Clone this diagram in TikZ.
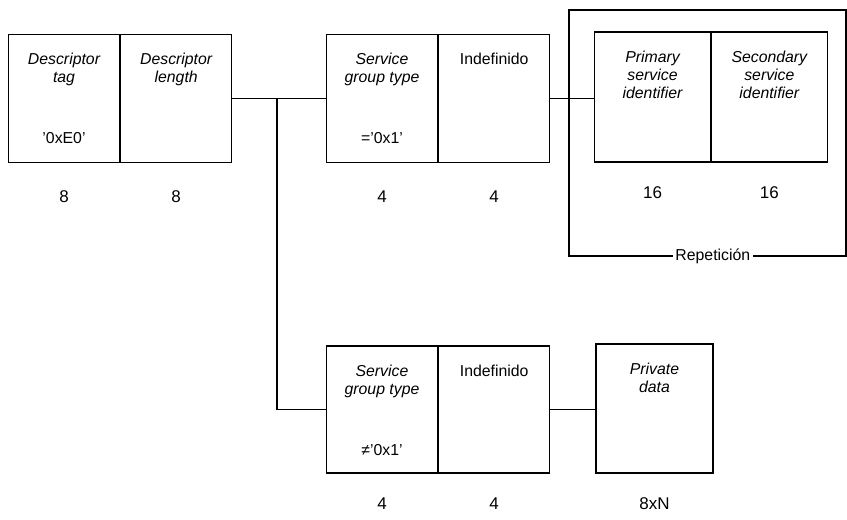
\documentclass[tikz,border=0pt]{standalone}
\usepackage{fontspec}
\setmainfont{Liberation Sans}
\usetikzlibrary{positioning}

\begin{document}
\begin{tikzpicture}[x=0.3mm,y=-0.3mm,
                    every node/.style={font=\fontsize{13.5}{15.5}\selectfont},
                    field/.style={draw,line width=1pt,minimum width=33.3mm,
                                  minimum height=38.5mm,inner sep=0pt},
                    widefield/.style={field,minimum width=34.7mm,minimum height=39mm},
                    fname/.style={font=\fontsize{13.5}{15.5}\selectfont\itshape,
                                  align=center,inner sep=0pt},
                    fvalue/.style={inner sep=0pt},
                    bits/.style={font=\fontsize{14.5}{16}\selectfont,inner sep=0pt},
                    link/.style={line width=1pt}]

  \useasboundingbox (0,0) rectangle (847,520);

  % --- descriptor header ----------------------------------------------------
  \node[field] (tag) at (64,98.5) {};
  \node[field,right=0pt of tag] (len) {};
  \node[fname,below=5.8mm of tag.north] (tagname) {Descriptor\\tag};
  \node[fname,below=5.8mm of len.north] (lenname) {Descriptor\\length};
  \node[fvalue] (tagval) at ([yshift=7.5mm]tag.south) {'0xE0'};
  \node[bits] (tagbits) at ([yshift=-9.9mm]tag.south) {8};
  \node[bits] (lenbits) at ([yshift=-9.9mm]len.south) {8};

  % --- service group type = '0x1' -------------------------------------------
  \node[field] (sgta) at (382,98.5) {};
  \node[field,right=0pt of sgta] (inda) {};
  \node[fname,below=5.8mm of sgta.north] (sgtaname) {Service\\group type};
  \node[fname,font=\fontsize{13.5}{15.5}\selectfont,below=5.8mm of inda.north] (indaname) {Indefinido};
  \node[fvalue] (sgtaval) at ([yshift=7.5mm]sgta.south) {='0x1'};
  \node[bits] (sgtabits) at ([yshift=-9.9mm]sgta.south) {4};
  \node[bits] (indabits) at ([yshift=-9.9mm]inda.south) {4};

  % --- repeated service identifiers -----------------------------------------
  \node[draw,line width=1pt,minimum width=83.1mm,minimum height=73.8mm] (rep) at (707.5,133) {};
  \node[widefield] (prim) at (652.5,97) {};
  \node[widefield,right=0pt of prim] (sec) {};
  \node[fname,below=5.8mm of prim.north] (primname) {Primary\\service\\identifier};
  \node[fname,below=5.8mm of sec.north] (secname) {Secondary\\service\\identifier};
  \node[bits] (primbits) at ([yshift=-9mm]prim.south) {16};
  \node[bits] (secbits) at ([yshift=-9mm]sec.south) {16};
  \node[fill=white,inner sep=2pt] (replabel) at ([xshift=1.6mm]rep.south) {Repetición};

  % --- service group type != '0x1' ------------------------------------------
  \node[field,minimum height=38.1mm] (sgtb) at (382,409.5) {};
  \node[field,minimum height=38.1mm,right=0pt of sgtb] (indb) {};
  \node[widefield,minimum width=35.1mm,minimum height=38.7mm] (priv) at (654.5,408.5) {};
  \node[fname,below=5.8mm of sgtb.north] (sgtbname) {Service\\group type};
  \node[fname,font=\fontsize{13.5}{15.5}\selectfont,below=5.8mm of indb.north] (indbname) {Indefinido};
  \node[fname,below=5.8mm of priv.north] (privname) {Private\\data};
  \node[fvalue] (sgtbval) at ([yshift=7mm]sgtb.south) {≠'0x1'};
  \node[bits] (sgtbbits) at ([yshift=-9mm]sgtb.south) {4};
  \node[bits] (indbbits) at ([yshift=-9mm]indb.south) {4};
  \node[bits] (privbits) at ([yshift=-9mm]priv.south) {8xN};

  % --- links ------------------------------------------------------------------
  \coordinate (br) at (277,98.5);
  \draw[link] (len.east) -- (sgta.west);
  \draw[link] (inda.east) -- (inda.east -| prim.west);
  \draw[link] (br) |- (sgtb.west);
  \draw[link] (indb.east) -- (indb.east -| priv.west);
\end{tikzpicture}
\end{document}
